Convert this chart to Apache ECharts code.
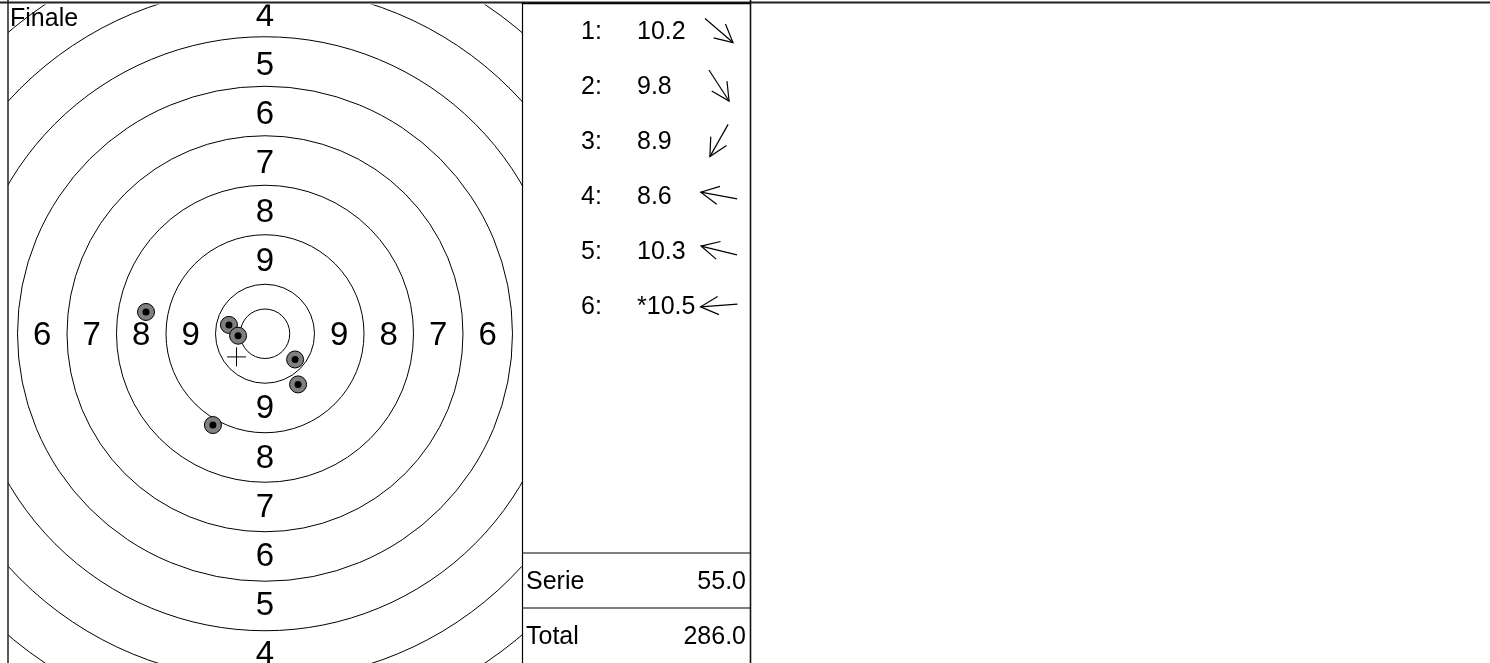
<!DOCTYPE html>
<html><head><meta charset="utf-8">
<script src="https://cdn.jsdelivr.net/npm/echarts@6/dist/echarts.min.js"></script>
<style>html,body{margin:0;padding:0;background:#fff;overflow:hidden}#c{width:1490px;height:663px}</style>
</head><body><div id="c"></div>
<script>
// ---- data ----
const title = "Finale";
const ringScores = [1, 2, 3, 4, 5, 6, 7, 8, 9, 10];      // scoring rings
const ringStepMm = 25;                                   // radius step per ring (50m pistol target)
const innerTenMm = 12.5;                                 // inner ten radius
const labelScores = [1, 2, 3, 4, 5, 6, 7, 8, 9];        // zone numbers printed on the target
const shotX = [15.2, 16.7, -26.3, -60.1, -18.2, -13.6]; // mm, right positive
const shotY = [-13.1, -25.8, -46.5, 11.1, 4.5, -1.0];   // mm, up positive
const shotScores = [10.2, 9.8, 8.9, 8.6, 10.3, 10.5];
const shotInnerTen = [false, false, false, false, false, true];
const summaryLabels = ["Serie", "Total"];
const summaryValues = [55.0, 286.0];

// ---- chart ----
const FONT = "'Liberation Sans', Arial, Helvetica, sans-serif";
const chart = echarts.init(document.getElementById('c'), null, {renderer: 'canvas'});

const ringData = [[innerTenMm, 0]].concat(ringScores.map(k => [(11 - k) * ringStepMm, 0]));
const dirs = [[0, 1], [0, -1], [-1, 0], [1, 0]];
const labelData = [];
labelScores.forEach(k => dirs.forEach((d, j) => labelData.push([k, j])));
const meanX = shotX.reduce((a, b) => a + b, 0) / shotX.length;
const meanY = shotY.reduce((a, b) => a + b, 0) / shotY.length;

function txt(text, x, y, size, align) {
  return {type: 'text', silent: true, style: {text, x, y: y + 2, fill: '#000', fontSize: size, fontFamily: FONT,
    align: align || 'left', verticalAlign: 'middle'}};
}

const option = {
  animation: false,
  grid: [
    {left: 8, top: 4.5, width: 514, height: 664},
    {left: 522, top: 3, width: 228, height: 664.2}
  ],
  xAxis: [
    {type: 'value', gridIndex: 0, min: -129.8, max: 129.8, show: false},
    {type: 'value', gridIndex: 1, min: 0, max: 228, show: false}
  ],
  yAxis: [
    {type: 'value', gridIndex: 0, min: -167.7, max: 167.7, show: false},
    {type: 'value', gridIndex: 1, min: -0.5, max: 11.5, inverse: true, show: false}
  ],
  series: [
    { // rings
      type: 'custom', xAxisIndex: 0, yAxisIndex: 0, clip: true, silent: true,
      data: ringData,
      renderItem(params, api) {
        const c = api.coord([0, 0]);
        const r = api.size([api.value(0), 0])[0];
        return {type: 'circle', shape: {cx: c[0], cy: c[1], r}, style: {fill: 'none', stroke: '#000', lineWidth: 1}};
      }
    },
    { // zone numbers
      type: 'custom', xAxisIndex: 0, yAxisIndex: 0, clip: true, silent: true,
      data: labelData,
      renderItem(params, api) {
        const k = api.value(0), d = dirs[api.value(1)];
        const rad = (10.5 - k) * ringStepMm;
        const p = api.coord([d[0] * rad, d[1] * rad]);
        return txt(String(k), p[0], p[1], 33, 'center');
      }
    },
    { // shots
      type: 'custom', xAxisIndex: 0, yAxisIndex: 0, clip: true, silent: true,
      data: shotX.map((x, i) => [x, shotY[i]]),
      renderItem(params, api) {
        const p = api.coord([api.value(0), api.value(1)]);
        return {type: 'group', children: [
          {type: 'circle', shape: {cx: p[0], cy: p[1], r: 8.5}, style: {fill: '#808080', stroke: '#000', lineWidth: 1}},
          {type: 'circle', shape: {cx: p[0], cy: p[1], r: 3.5}, style: {fill: '#000'}}
        ]};
      }
    },
    { // mean point of impact
      type: 'custom', xAxisIndex: 0, yAxisIndex: 0, clip: true, silent: true,
      data: [[meanX, meanY]],
      renderItem(params, api) {
        const p = api.coord([api.value(0), api.value(1)]);
        const s = 9.5;
        return {type: 'group', children: [
          {type: 'line', shape: {x1: p[0] - s, y1: p[1], x2: p[0] + s, y2: p[1]}, style: {stroke: '#000', lineWidth: 1}},
          {type: 'line', shape: {x1: p[0], y1: p[1] - s, x2: p[0], y2: p[1] + s}, style: {stroke: '#000', lineWidth: 1}}
        ]};
      }
    },
    { // shot list rows
      type: 'custom', xAxisIndex: 1, yAxisIndex: 1, silent: true,
      data: shotScores.map((s, i) => [s, i]),
      renderItem(params, api) {
        const i = params.dataIndex;
        const row = api.value(1);
        const pNum = api.coord([59, row]);
        const pScore = api.coord([115, row]);
        const pA = api.coord([197, row]);
        const vx = shotX[i], vy = -shotY[i];
        const len = Math.hypot(vx, vy), ux = vx / len, uy = vy / len;
        const half = 18.5;
        const x1 = pA[0] - ux * half, y1 = pA[1] - uy * half;
        const x2 = pA[0] + ux * half, y2 = pA[1] + uy * half;
        const wing = 20, ang = 27 * Math.PI / 180, back = Math.atan2(-uy, -ux);
        const w1 = [x2 + wing * Math.cos(back + ang), y2 + wing * Math.sin(back + ang)];
        const w2 = [x2 + wing * Math.cos(back - ang), y2 + wing * Math.sin(back - ang)];
        return {type: 'group', children: [
          txt((i + 1) + ':', pNum[0], pNum[1], 25),
          txt((shotInnerTen[i] ? '*' : '') + api.value(0).toFixed(1), pScore[0], pScore[1], 25),
          {type: 'line', shape: {x1, y1, x2, y2}, style: {stroke: '#000', lineWidth: 1.2}},
          {type: 'polyline', shape: {points: [w1, [x2, y2], w2]}, style: {stroke: '#000', fill: 'none', lineWidth: 1.2}}
        ]};
      }
    },
    { // summary rows
      type: 'custom', xAxisIndex: 1, yAxisIndex: 1, silent: true,
      data: summaryValues.map((v, i) => [v, 10 + i]),
      renderItem(params, api) {
        const row = api.value(1);
        const l = api.coord([0, row - 0.5]);
        const r = api.coord([228, row - 0.5]);
        const pL = api.coord([4, row]);
        const pR = api.coord([224, row]);
        return {type: 'group', children: [
          {type: 'line', shape: {x1: l[0], y1: l[1], x2: r[0], y2: r[1]}, style: {stroke: '#000', lineWidth: 1.2}},
          txt(summaryLabels[params.dataIndex], pL[0], pL[1], 25),
          txt(api.value(0).toFixed(1), pR[0], pR[1], 25, 'right')
        ]};
      }
    }
  ],
  graphic: [
    {type: 'line', silent: true, z: 100, shape: {x1: 0, y1: 2.5, x2: 1490, y2: 2.5}, style: {stroke: '#222', lineWidth: 2}},
    {type: 'line', silent: true, z: 100, shape: {x1: 522, y1: 3.5, x2: 751, y2: 3.5}, style: {stroke: '#000', lineWidth: 1.5}},
    {type: 'line', silent: true, z: 100, shape: {x1: 8, y1: 0, x2: 8, y2: 663}, style: {stroke: '#222', lineWidth: 1.5}},
    {type: 'line', silent: true, z: 100, shape: {x1: 522.5, y1: 3, x2: 522.5, y2: 663}, style: {stroke: '#000', lineWidth: 1.2}},
    {type: 'line', silent: true, z: 100, shape: {x1: 750.5, y1: 0, x2: 750.5, y2: 663}, style: {stroke: '#111', lineWidth: 1.6}},
    {type: 'text', silent: true, z: 100, style: {text: title, x: 10, y: 19, fill: '#000', fontSize: 25, fontFamily: FONT, align: 'left', verticalAlign: 'middle'}}
  ]
};
chart.setOption(option);
</script>
</body></html>
